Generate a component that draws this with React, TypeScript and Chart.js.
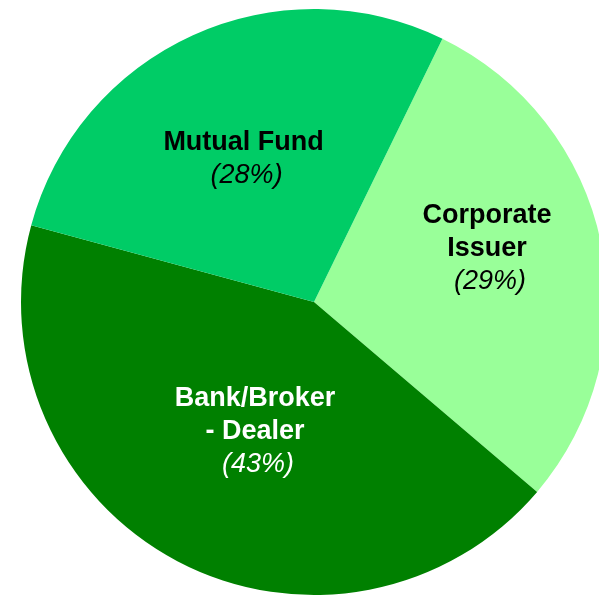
import React, { useEffect, useRef } from "react";
import { Chart, registerables } from "chart.js";

Chart.register(...registerables);

const categories: string[][] = [["Corporate", "Issuer"], ["Bank/Broker", "- Dealer"], ["Mutual Fund"]];
const shares: number[] = [29, 43, 28];
const sliceColors: string[] = ["#99FF99", "#008000", "#00CC66"];
const labelColors: string[] = ["#000000", "#FFFFFF", "#000000"];
const labelFrac: number[] = [0.62, 0.48, 0.55];
const labelAngleShift: number[] = [-6, -3, -1.5];

const labelPlugin = {
  id: "sliceLabels",
  afterDatasetsDraw(chart: any) {
    const ctx = chart.ctx;
    const meta = chart.getDatasetMeta(0);
    meta.data.forEach((arc: any, i: number) => {
      const { x, y, startAngle, endAngle, outerRadius } = arc.getProps(
        ["x", "y", "startAngle", "endAngle", "outerRadius"],
        true
      );
      const mid = (startAngle + endAngle) / 2 + (labelAngleShift[i] * Math.PI) / 180;
      const r = outerRadius * labelFrac[i];
      const cx = x + Math.cos(mid) * r;
      const cy = y + Math.sin(mid) * r + 2;
      const lines = categories[i];
      const lh = 33;
      const total = lines.length + 1;
      const top = cy - ((total - 1) * lh) / 2;
      ctx.save();
      ctx.fillStyle = labelColors[i];
      ctx.textAlign = "center";
      ctx.textBaseline = "middle";
      ctx.font = "bold 27px 'Liberation Sans', Arial, sans-serif";
      lines.forEach((t, k) => {
        ctx.fillText(t, cx, top + k * lh);
      });
      ctx.font = "italic 27px 'Liberation Sans', Arial, sans-serif";
      ctx.fillText("(" + shares[i] + "%)", cx + 3, top + lines.length * lh);
      ctx.restore();
    });
  },
};

export default function App() {
  const ref = useRef<HTMLCanvasElement>(null);
  useEffect(() => {
    if (!ref.current) return;
    const chart = new Chart(ref.current, {
      type: "pie",
      data: {
        labels: categories.map((c) => c.join(" ")),
        datasets: [
          {
            data: shares,
            backgroundColor: sliceColors,
            borderWidth: 0,
          },
        ],
      },
      options: {
        responsive: false,
        animation: false,
        rotation: 26,
        layout: { padding: 9 },
        plugins: {
          legend: { display: false },
          tooltip: { enabled: false },
        },
      },
      plugins: [labelPlugin],
    });
    return () => chart.destroy();
  }, []);
  return (
    <div
      style={{
        position: "fixed",
        left: 0,
        top: 0,
        width: 599,
        height: 595,
        overflow: "hidden",
        background: "#fff",
      }}
    >
      <canvas ref={ref} width={628} height={604} style={{ display: "block" }} />
    </div>
  );
}
